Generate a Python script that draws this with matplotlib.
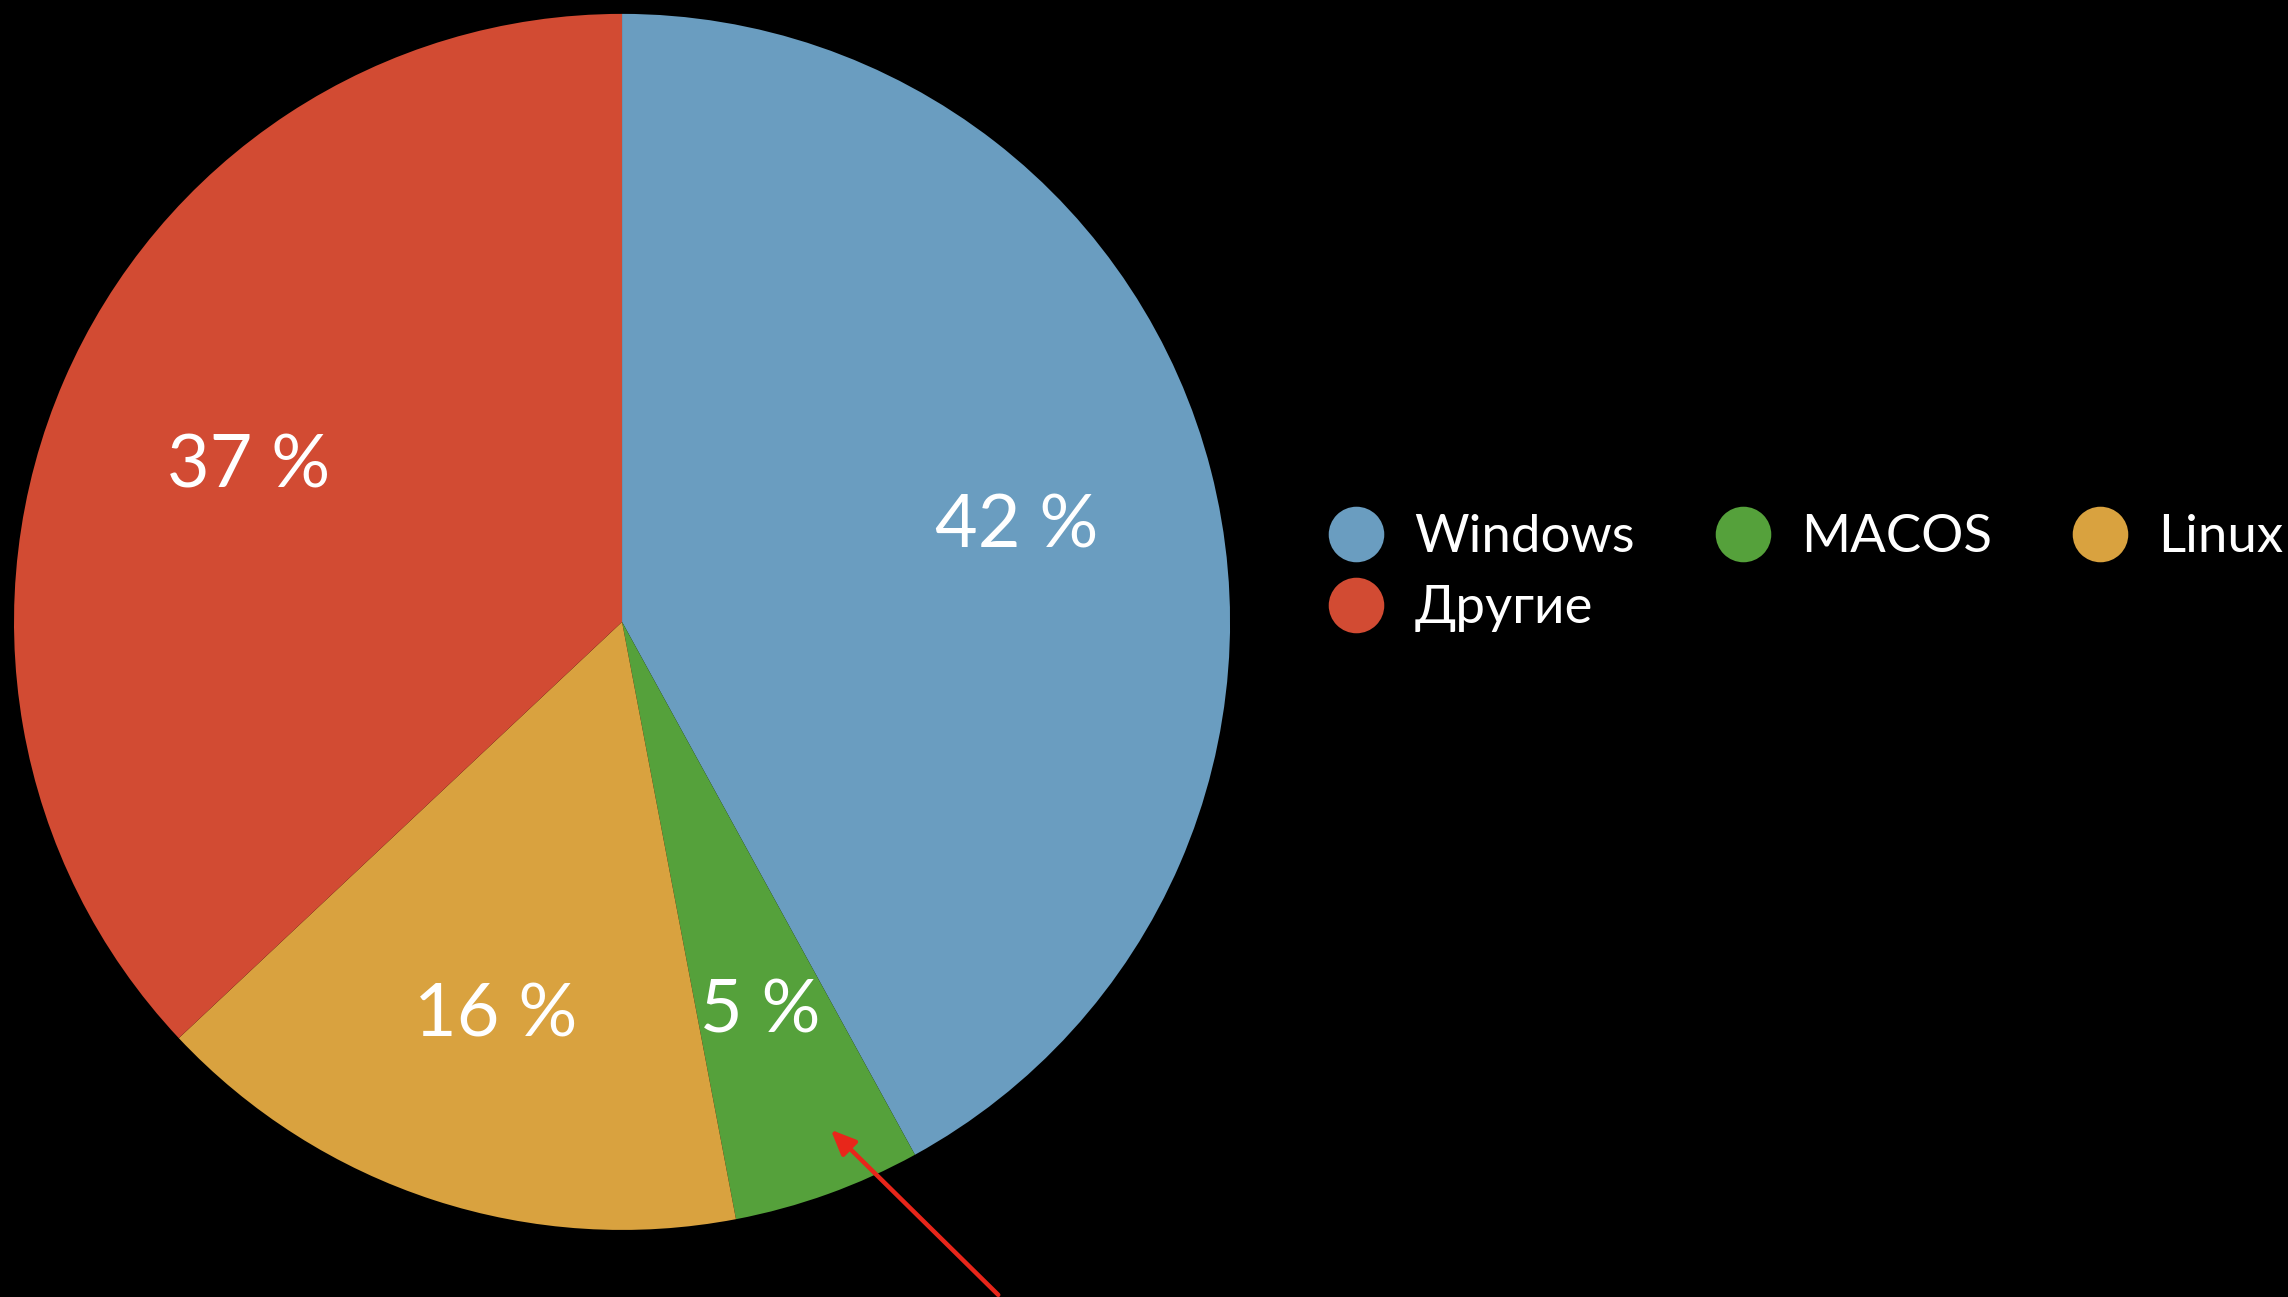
import matplotlib
matplotlib.use("Agg")
import matplotlib.pyplot as plt
from matplotlib.lines import Line2D

# данные
labels = ["Windows", "MACOS", "Linux", "Другие"]
values = [42, 5, 16, 37]
colors = ["#6a9dc0", "#55a13b", "#d9a23f", "#d24b33"]

plt.rcParams['font.family'] = ['Lato', 'DejaVu Sans']

fig = plt.figure(figsize=(22.88, 12.97), dpi=100, facecolor="black")
ax = fig.add_axes([0.00612, 0.0517, 0.5315, 0.9376])
ax.set_facecolor("black")

wedges, texts, autotexts = ax.pie(
    values, colors=colors, startangle=90, counterclock=False,
    autopct=lambda p: f"{p:.0f} %", pctdistance=0.67,
    textprops=dict(color="white", fontsize=53),
    wedgeprops=dict(linewidth=0),
)
for t in autotexts:
    t.set_va("center_baseline")
ax.set_xlim(-1, 1)
ax.set_ylim(-1, 1)
ax.set_aspect("equal")
ax.axis("off")

# стрелка на сектор MACOS
ax.annotate("", xy=(0.34, -0.832), xytext=(0.622, -1.11),
            arrowprops=dict(arrowstyle="-|>,head_length=1.5,head_width=0.65",
                            color="#e8261a", lw=3.2),
            annotation_clip=False)

# легенда по строкам: Windows, MACOS, Linux / Другие
order = [0, 3, 1, 2]
handles = [Line2D([], [], marker="o", linestyle="none", markersize=40,
                  markerfacecolor=colors[i], markeredgewidth=0) for i in order]
fig.legend(handles, [labels[i] for i in order], loc="upper left",
           bbox_to_anchor=(0.549, 0.640),
           ncol=3, frameon=False, fontsize=38, labelcolor="white",
           handlelength=2.0, handletextpad=0.1, columnspacing=1.05,
           labelspacing=0.45)

fig.savefig("out.png", dpi=100, facecolor="black")
